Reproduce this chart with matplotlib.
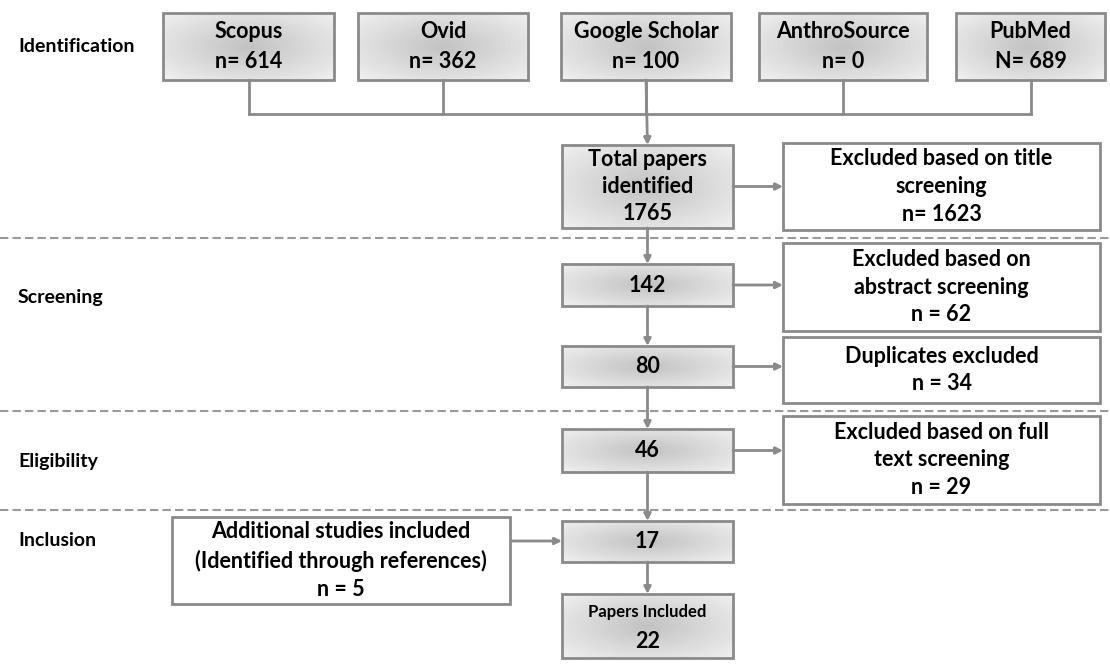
import numpy as np
import matplotlib.pyplot as plt
from matplotlib.patches import Rectangle

plt.rcParams['font.family'] = ['Lato', 'DejaVu Sans']

# stage labels on the left
stage_labels = ['Identification', 'Screening', 'Eligibility', 'Inclusion']
stage_y = [47, 297, 462, 541]

# database boxes
sources = ['Scopus\nn= 614', 'Ovid\nn= 362', 'Google Scholar\nn= 100',
           'AnthroSource\nn= 0', 'PubMed\nN= 689']
source_x = [(163, 334), (358, 528), (561, 731), (759, 927), (956, 1105)]

# main column (grey gradient boxes)
main_text = ['Total papers\nidentified\n1765', '142', '80', '46', '17', '']
main_y = [(145, 228), (264, 306), (346, 387), (429, 472), (521, 562), (594, 658)]

# excluded boxes on the right
excl_text = ['Excluded based on title\nscreening\nn= 1623',
             'Excluded based on\nabstract screening\nn = 62',
             'Duplicates excluded\nn = 34',
             'Excluded based on full\ntext screening\nn = 29']
excl_y = [(143, 230), (243, 331), (337, 403), (416, 504)]
excl_from = [0, 1, 2, 3]

dash_y = [238, 411, 510]

grey = '#8a8a8a'
fs = 15.5

fig = plt.figure(figsize=(11.1, 6.68), dpi=100)
ax = fig.add_axes([0, 0, 1, 1])
ax.set_xlim(0, 1110)
ax.set_ylim(668, 0)
ax.axis('off')


def grad_box(x0, x1, y0, y1, text, size=fs, ls=1.35):
    yy, xx = np.mgrid[-1:1:80j, -1:1:160j]
    r = np.sqrt(xx ** 2 + yy ** 2) / np.sqrt(2)
    img = 0.76 + 0.18 * r
    im = ax.imshow(img, cmap='gray', vmin=0, vmax=1, extent=(x0, x1, y1, y0),
                   interpolation='bilinear', zorder=1, aspect='auto')
    rect = Rectangle((x0, y0), x1 - x0, y1 - y0, fc='none', ec=grey, lw=2, zorder=2)
    ax.add_patch(rect)
    im.set_clip_path(rect)
    if text:
        ax.text((x0 + x1) / 2, (y0 + y1) / 2, text, ha='center', va='center',
                fontsize=size, fontweight='bold', linespacing=ls, zorder=3)


def white_box(x0, x1, y0, y1, text, size=fs):
    ax.add_patch(Rectangle((x0, y0), x1 - x0, y1 - y0, fc='white', ec=grey, lw=2, zorder=2))
    ax.text((x0 + x1) / 2, (y0 + y1) / 2, text, ha='center', va='center',
            fontsize=size, fontweight='bold', linespacing=1.4, zorder=3)


def arrow(x0, y0, x1, y1):
    ax.annotate('', xy=(x1, y1), xytext=(x0, y0),
                arrowprops=dict(arrowstyle='-|>', color=grey, lw=2,
                                mutation_scale=10, shrinkA=0, shrinkB=0), zorder=1)


for lab, y in zip(stage_labels, stage_y):
    ax.text(18, y, lab, ha='left', va='center', fontsize=14, fontweight='bold')

for y in dash_y:
    ax.plot([0, 1110], [y, y], color='#999999', lw=1.5, ls=(0, (4, 2)), zorder=0)

# source boxes and their connector
centers = []
for (x0, x1), t in zip(source_x, sources):
    grad_box(x0, x1, 13, 80, t, ls=1.5)
    cx = (x0 + x1) / 2
    centers.append(cx)
    ax.plot([cx, cx], [80, 114], color=grey, lw=2, zorder=1)
ax.plot([centers[0], centers[-1]], [114, 114], color=grey, lw=2, zorder=1)

mx0, mx1 = 562, 733
mcx = (mx0 + mx1) / 2
arrow(centers[2], 80, mcx, main_y[0][0])

for (y0, y1), t in zip(main_y, main_text):
    grad_box(mx0, mx1, y0, y1, t)

# last box has a small title and a larger number
ax.text(mcx, 612, 'Papers Included', ha='center', va='center',
        fontsize=12, fontweight='bold', zorder=3)
ax.text(mcx, 641, '22', ha='center', va='center',
        fontsize=fs, fontweight='bold', zorder=3)

for i in range(len(main_y) - 1):
    arrow(mcx, main_y[i][1], mcx, main_y[i + 1][0])

for (y0, y1), t, k in zip(excl_y, excl_text, excl_from):
    white_box(783, 1100, y0, y1, t)
    my = (main_y[k][0] + main_y[k][1]) / 2
    arrow(mx1, my, 783, my)

# additional studies
white_box(172, 510, 517, 604,
          'Additional studies included\n(Identified through references)\nn = 5')
arrow(510, 541, mx0, 541)

fig.savefig('out.png', dpi=100)
